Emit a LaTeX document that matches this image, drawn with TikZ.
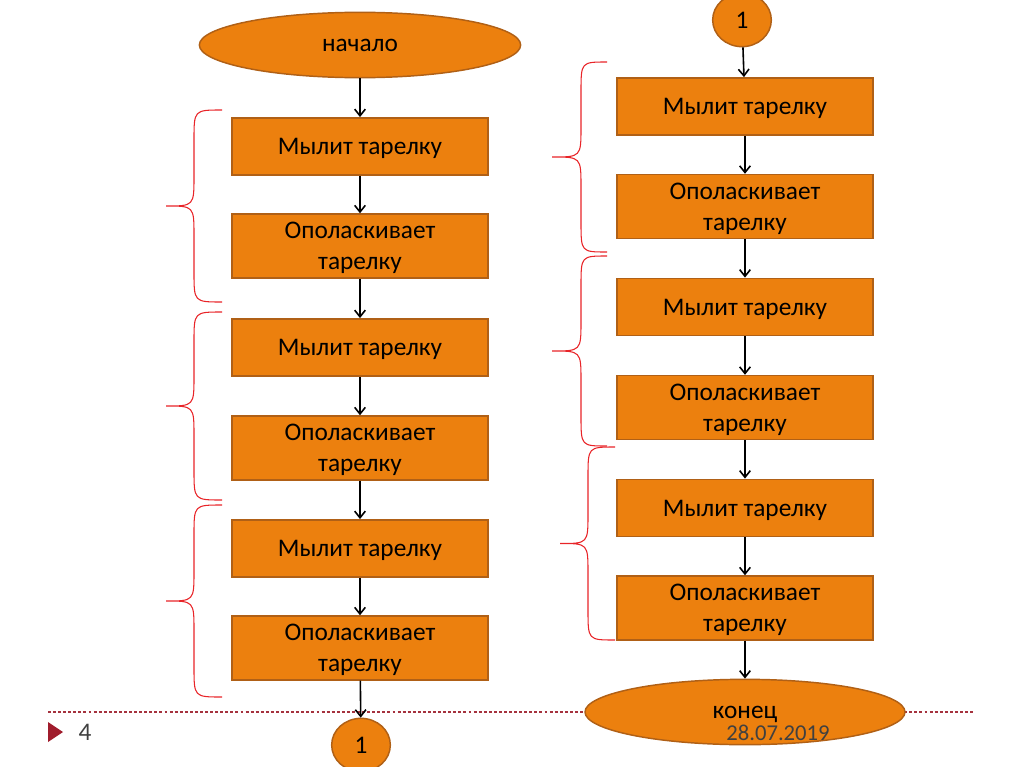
\documentclass[tikz,border=0pt]{standalone}
\usepackage{fontspec}
\setmainfont{Carlito}
\usetikzlibrary{shapes.geometric,arrows.meta}
\definecolor{boxfill}{RGB}{236,128,14}
\definecolor{boxline}{RGB}{176,96,22}
\definecolor{bracered}{RGB}{232,36,40}
\definecolor{sepred}{RGB}{165,50,62}
\definecolor{markred}{RGB}{160,28,44}
\definecolor{footgray}{RGB}{64,64,64}

\begin{document}
\begin{tikzpicture}[x=0.75pt,y=-0.75pt,
    op/.style={draw=boxline, fill=boxfill, line width=1.1pt, inner sep=0pt,
      minimum width=192pt, minimum height=43pt, align=center, text depth=0pt,
      font=\fontsize{19}{23}\selectfont},
    op2/.style={op, minimum height=48pt},
    term/.style={ellipse, draw=boxline, fill=boxfill, line width=1.1pt, inner sep=0pt,
      text depth=0pt, font=\fontsize{19}{23}\selectfont},
    flow/.style={-{Straight Barb[length=5pt,width=8pt]}, line width=1.2pt},
    bracket/.style={draw=bracered, line width=0.8pt},
    sepline/.style={draw=sepred, line width=0.8pt, dash pattern=on 2.2pt off 1.6pt}]
        \useasboundingbox (0,0) rectangle (1024,767);

        % 底部分隔线
        \draw[sepline] (48,712) -- (975,712);

        % 左列
        \node[term, minimum width=241pt, minimum height=49pt] (start) at (360,45) {начало};
        \node[op]  (a1) at (360,146.5) {Мылит тарелку};
        \node[op2] (a2) at (360,246)   {Ополаскивает\\тарелку};
        \node[op]  (a3) at (360,347.5) {Мылит тарелку};
        \node[op2] (a4) at (360,448)   {Ополаскивает\\тарелку};
        \node[op]  (a5) at (360,548.5) {Мылит тарелку};
        \node[op2] (a6) at (360,648)   {Ополаскивает\\тарелку};
        \node[term, minimum width=44pt, minimum height=40pt] (c1) at (361,745) {1};

        % 右列
        \node[term, minimum width=44pt, minimum height=40pt] (c2) at (742,20) {1};
        \node[op]  (b1) at (745,106.5) {Мылит тарелку};
        \node[op2] (b2) at (745,206.5) {Ополаскивает\\тарелку};
        \node[op]  (b3) at (745,307)   {Мылит тарелку};
        \node[op2] (b4) at (745,407.5) {Ополаскивает\\тарелку};
        \node[op]  (b5) at (745,508)   {Мылит тарелку};
        \node[op2] (b6) at (745,608)   {Ополаскивает\\тарелку};
        \node[term, minimum width=240pt, minimum height=49pt] (stop) at (745,712) {конец};

        % 箭头
        \foreach \u/\v in {start/a1, a1/a2, a2/a3, a3/a4, a4/a5, a5/a6, a6/c1,
                           c2/b1, b1/b2, b2/b3, b3/b4, b4/b5, b5/b6, b6/stop}
            \draw[flow] (\u) -- (\v);

        % 花括号
        \foreach \xr/\xs/\xl/\yt/\yb in {222/194/166/110/302, 222/194/166/312/500,
                                        222/194/166/505/697, 607/581/552/62/252,
                                        607/581/552/256/446, 615/588/560/447/640} {
            \pgfmathsetmacro{\ym}{(\yt+\yb)/2}
            \draw[bracket] (\xr,\yt) .. controls (\xs,\yt) .. (\xs,\yt+30)
                -- (\xs,\ym-30) .. controls (\xs,\ym) .. (\xl,\ym)
                .. controls (\xs,\ym) .. (\xs,\ym+30)
                -- (\xs,\yb-30) .. controls (\xs,\yb) .. (\xr,\yb);
        }

        % 页脚
        \fill[markred] (48,722) -- (63,732) -- (48,742) -- cycle;
        \node[text=footgray, font=\fontsize{19}{22}\selectfont] (page) at (85,732) {4};
        \node[text=footgray, font=\fontsize{17}{20}\selectfont] (date) at (778,733) {28.07.2019};
    \end{tikzpicture}
\end{document}
